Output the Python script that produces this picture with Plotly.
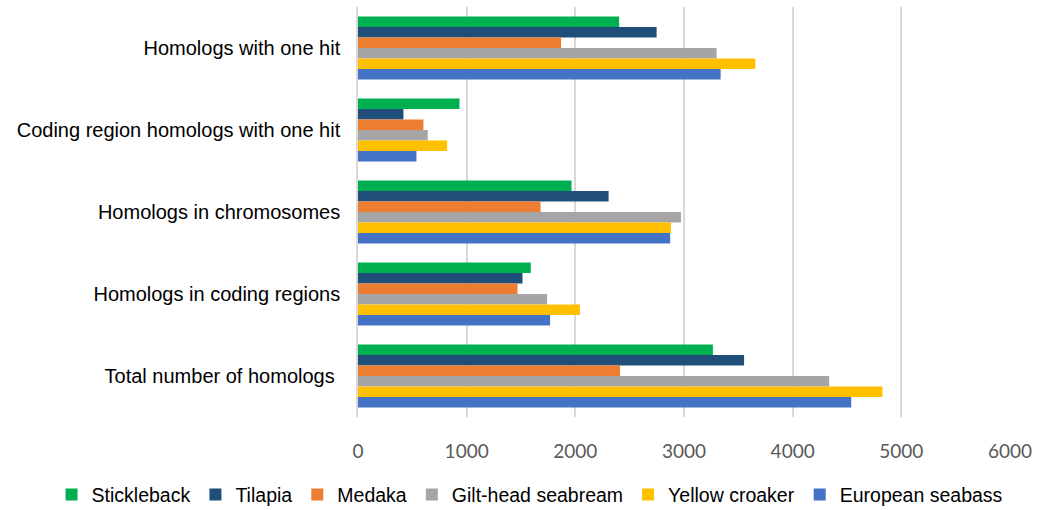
import plotly.graph_objects as go

categories = [
    "Homologs with one hit",
    "Coding region homologs with one hit",
    "Homologs in chromosomes",
    "Homologs in coding regions",
    "Total number of homologs\u00a0",
]
series_names = ["Stickleback", "Tilapia", "Medaka", "Gilt-head seabream", "Yellow croaker", "European seabass"]
stickleback = [2403, 934, 1965, 1590, 3266]
tilapia = [2748, 418, 2306, 1514, 3553]
medaka = [1869, 602, 1680, 1468, 2411]
gilthead = [3300, 642, 2972, 1740, 4336]
yellow_croaker = [3656, 820, 2880, 2042, 4826]
european_seabass = [3337, 538, 2873, 1768, 4539]
colors = ["#00B050", "#1F4E79", "#ED7D31", "#A5A5A5", "#FFC000", "#4472C4"]
x_ticks = [0, 1000, 2000, 3000, 4000, 5000, 6000]

values = [stickleback, tilapia, medaka, gilthead, yellow_croaker, european_seabass]

fig = go.Figure()
for name, vals, col in zip(series_names, values, colors):
    fig.add_trace(go.Bar(
        y=categories, x=vals, name=name, orientation="h",
        marker=dict(color=col, line=dict(width=0)),
    ))

fig.update_layout(
    width=1045, height=510,
    margin=dict(l=358, r=35, t=7, b=93, autoexpand=False),
    barmode="group", bargap=0.23, bargroupgap=0,
    plot_bgcolor="white", paper_bgcolor="white",
    font=dict(family="Liberation Sans, Arial, sans-serif", size=20, color="#000000"),
    legend=dict(
        orientation="h", x=-0.47, xanchor="left", xref="paper",
        y=-0.19, yanchor="middle", yref="paper", traceorder="normal",
        font=dict(size=19.5, color="#000000"), itemwidth=30,
        tracegroupgap=0,
    ),
    showlegend=True,
)
fig.update_xaxes(
    range=[0, 6000], tickvals=x_ticks, showgrid=True, gridcolor="#D9D9D9", gridwidth=1.5,
    zeroline=False, showline=False, ticks="", ticklabelstandoff=21,
    tickfont=dict(family="Lato, Open Sans, sans-serif", size=19, color="#595959"),
)
fig.update_yaxes(
    autorange="reversed", showline=True, linecolor="#D9D9D9", linewidth=1.5,
    ticks="", ticklabelstandoff=12, tickfont=dict(size=20, color="#000000"),
)

fig.write_html("out.html")
